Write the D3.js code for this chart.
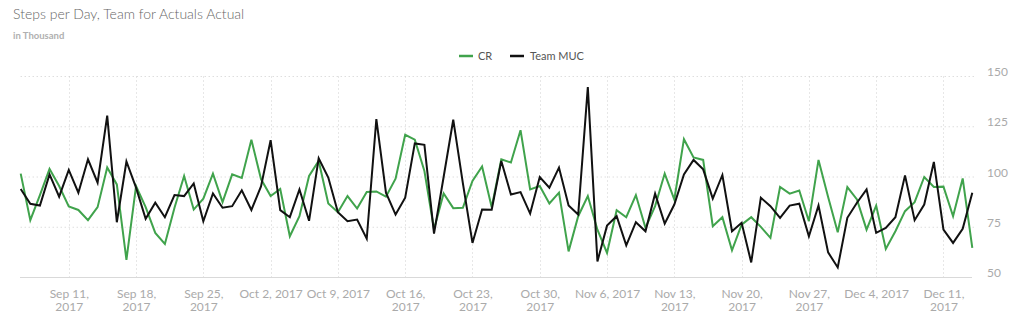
<!DOCTYPE html>
<html>
<head>
<meta charset="utf-8">
<script src="https://cdn.jsdelivr.net/npm/d3@7"></script>
<style>
  html, body { margin: 0; padding: 0; background: #fff; }
  svg { display: block; font-family: Lato, "Open Sans", sans-serif; }
</style>
</head>
<body>
<svg id="chart" width="1024" height="330"></svg>
<script>
// ---- data ----
const startDate = "2017-09-06";
const endDate = "2017-12-14";
const seriesNames = ["CR", "Team MUC"];
const seriesColors = ["#40a34c", "#111111"];
const crValues = [
  101.7, 78.5, 91, 104, 95.5, 85.3, 83.6, 78.5, 85, 104.7,
  96.3, 58.8, 95.5, 85, 72.2, 66.7, 84.7, 100.5, 83.8, 89.2,
  101.7, 87.5, 101.3, 99.5, 118.5, 99, 90.5, 94, 70.5, 80.5,
  100.5, 108, 86.8, 82.5, 90.5, 84.3, 92.5, 92.8, 90.2, 99.2,
  121, 118.6, 103, 74, 91.8, 84.5, 84.7, 98, 105.2, 85,
  108.8, 107.2, 123.3, 93.8, 95.5, 86.8, 92.2, 63, 80.5, 90.5,
  73.8, 62.2, 83.5, 80, 91, 74.7, 85.5, 101.7, 88.8, 118.8,
  109.7, 108.5, 75.5, 80, 63.5, 76.3, 80, 75.2, 69.7, 95,
  91.7, 93.3, 78, 108.5, 90, 72.5, 95, 88.8, 73.8, 85.8,
  64.2, 73, 83, 87.5, 100, 95, 95.2, 80.5, 99.3, 64.7
];
const mucValues = [
  94, 86.7, 85.8, 101.3, 90.2, 103.5, 92.2, 108.8, 97.2, 130.5,
  77.5, 107.7, 94.7, 79.2, 87.2, 80, 91, 90.5, 96.8, 78,
  91.8, 84.7, 85.5, 93.4, 83.6, 95.3, 118.3, 83.5, 80, 93.8,
  78.2, 109.3, 99.7, 82.5, 78, 78.8, 69.3, 128.8, 92.2, 81.3,
  89.7, 116.7, 116, 71.8, 100, 128.5, 97, 67.2, 83.8, 83.7,
  108, 91.3, 92.5, 81.8, 100, 94.7, 104.7, 85.8, 81.3, 144.7,
  58, 75.8, 80.5, 66, 77.5, 73, 91.7, 76.8, 86.3, 101.3,
  108.5, 103.8, 89.3, 101, 73, 77.2, 57.5, 89.7, 85.5, 79.7,
  85.8, 86.7, 70.5, 85.8, 62.5, 55, 79.7, 87.2, 93.8, 72.2,
  74.7, 80, 100.8, 78.5, 86.3, 107.5, 73.8, 67.2, 74.2, 92.2
];
const yTicks = [50, 75, 100, 125, 150];
const xTickDates = ["2017-09-11","2017-09-18","2017-09-25","2017-10-02","2017-10-09","2017-10-16","2017-10-23","2017-10-30","2017-11-06","2017-11-13","2017-11-20","2017-11-27","2017-12-04","2017-12-11"];
const titleText = "Steps per Day, Team for Actuals Actual";
const subtitleText = "in Thousand";

// ---- build ----
const parse = d3.utcParse("%Y-%m-%d");
const dates = d3.utcDay.range(parse(startDate), d3.utcDay.offset(parse(endDate), 1));
const seriesData = [crValues, mucValues].map((vals, i) => ({
  name: seriesNames[i], color: seriesColors[i],
  points: vals.map((v, j) => ({ date: dates[j], value: v }))
}));

const svg = d3.select("#chart");
const x = d3.scaleUtc().domain([dates[0], dates[dates.length - 1]]).range([20.7, 972.3]);
const y = d3.scaleLinear().domain([50, 150]).range([277.5, 76.5]);

// title
svg.append("text").attr("x", 13).attr("y", 19)
  .attr("font-size", 14).attr("font-weight", 300).attr("fill", "#666")
  .text(titleText);
svg.append("text").attr("x", 13).attr("y", 38.5)
  .attr("font-size", 9.5).attr("font-weight", 700).attr("fill", "#b0b0b0")
  .text(subtitleText);

// y axis (right)
const yAxis = d3.axisRight(y).tickValues(yTicks).tickSize(0).tickFormat(d3.format("d"));
const gy = svg.append("g").attr("transform", "translate(987,0)").call(yAxis);
gy.select(".domain").remove();
gy.selectAll("text").attr("x", 0).attr("dy", "-1px").attr("text-anchor", "start")
  .attr("font-family", "Lato").attr("font-size", 12).attr("fill", "#aaa");

svg.append("g").selectAll("line").data(yTicks.filter(t => t > 50)).join("line")
  .attr("x1", 20.7).attr("x2", 975).attr("y1", d => y(d)).attr("y2", d => y(d))
  .attr("stroke", "#cfcfcf").attr("stroke-width", 1).attr("stroke-dasharray", "1,3");

// vertical gridlines + x axis
const tickDates = xTickDates.map(parse);
svg.append("g").selectAll("line").data(tickDates).join("line")
  .attr("x1", d => Math.round(x(d)) + 0.5).attr("x2", d => Math.round(x(d)) + 0.5)
  .attr("y1", y(150)).attr("y2", y(50))
  .attr("stroke", "#cfcfcf").attr("stroke-width", 1).attr("stroke-dasharray", "1,3");

const fmt = d3.utcFormat("%b %-d, %Y");
const xAxis = d3.axisBottom(x).tickValues(tickDates).tickSize(0).tickFormat("");
const gx = svg.append("g").attr("transform", `translate(0,${y(50)})`).call(xAxis);
gx.select(".domain").remove();
svg.append("line").attr("x1", 20).attr("x2", 972).attr("y1", y(50)).attr("y2", y(50))
  .attr("stroke", "#d9d9d9").attr("stroke-width", 1.2);

gx.selectAll(".tick").each(function(d) {
  const label = fmt(d);
  const lines = label.length > 11 ? [label.slice(0, label.indexOf(",") + 1), label.slice(label.indexOf(",") + 2)] : [label];
  const t = d3.select(this).append("text")
    .attr("text-anchor", "middle").attr("font-family", "Lato").attr("font-size", 12)
    .attr("fill", "#aaa").attr("y", 20);
  lines.forEach((l, i) => t.append("tspan").attr("x", 0).attr("dy", i === 0 ? 0 : 13.4).text(l));
});

// lines
const line = d3.line().x(d => x(d.date)).y(d => y(d.value));
svg.append("g").selectAll("path").data(seriesData).join("path")
  .attr("d", d => line(d.points)).attr("fill", "none")
  .attr("stroke", d => d.color).attr("stroke-width", 2).attr("stroke-linejoin", "miter");

// legend
const legendItems = [{ x: 459, tx: 478 }, { x: 510, tx: 530 }];
const lg = svg.append("g");
seriesData.forEach((s, i) => {
  lg.append("line").attr("x1", legendItems[i].x).attr("x2", legendItems[i].x + 14)
    .attr("y1", 56).attr("y2", 56).attr("stroke", s.color).attr("stroke-width", 2.5);
  lg.append("text").attr("x", legendItems[i].tx).attr("y", 60)
    .attr("font-size", 11).attr("fill", "#555").text(s.name);
});
</script>
</body>
</html>
